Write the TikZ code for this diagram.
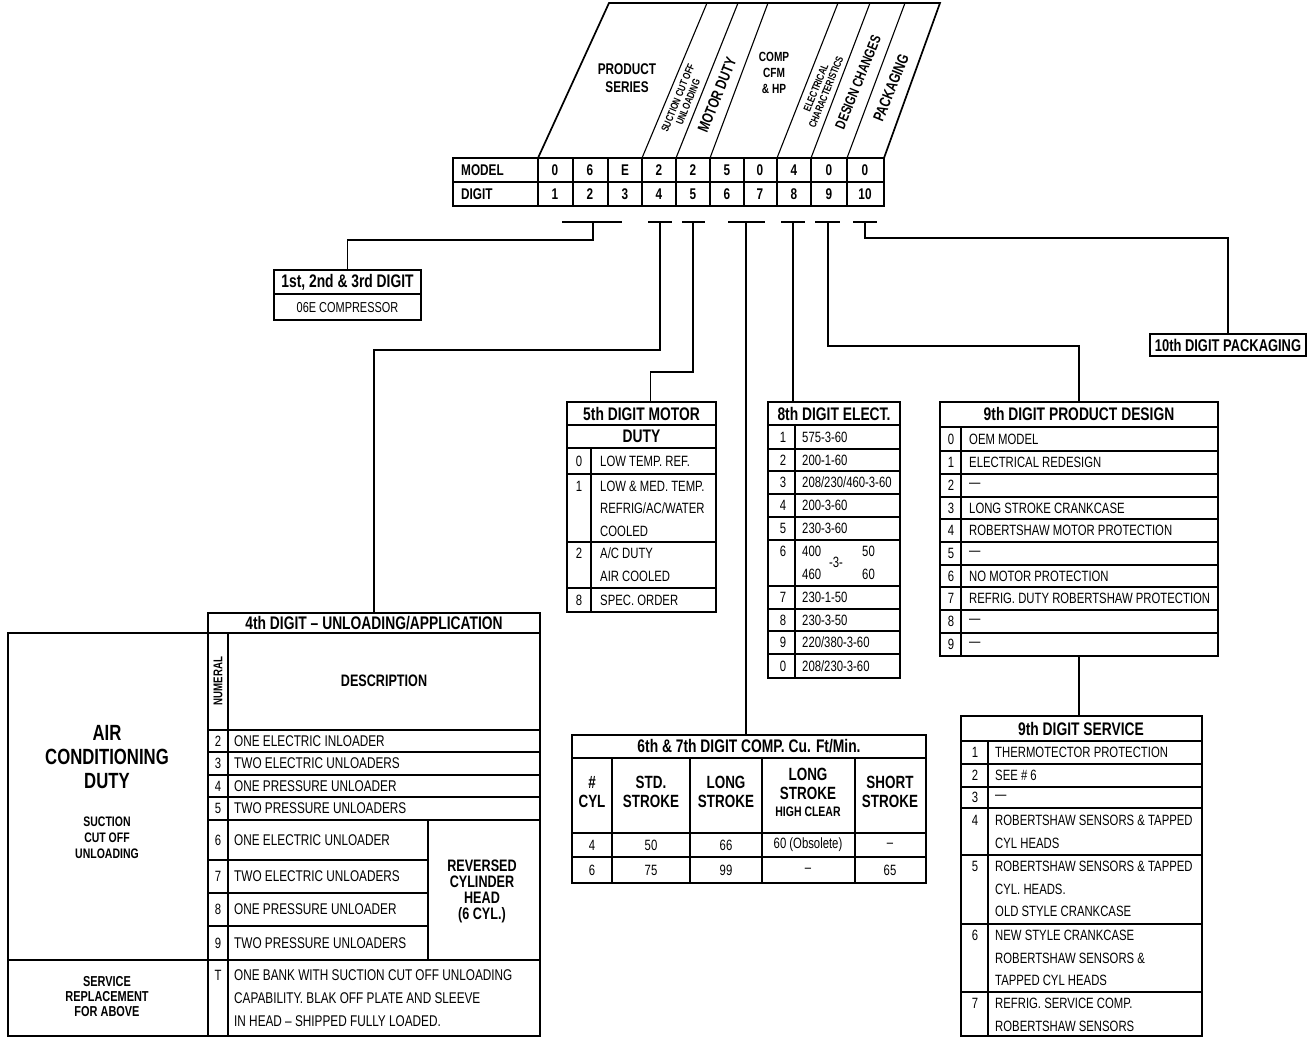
\documentclass[tikz,border=0pt]{standalone}
\usepackage{fontspec}
\setmainfont{Liberation Sans}[FakeStretch=0.76]
\usetikzlibrary{positioning}
\newcommand\fsz[2]{\fontsize{#1}{#2}\selectfont}

\begin{document}
\begin{tikzpicture}[
  x=1pt, y=-1pt,
  frame/.style={line width=1.7pt},
  grid/.style={line width=1.1pt},
  conn/.style={line width=1.7pt},
  tbl/.style={draw, frame, inner sep=0, outer sep=0, anchor=north west},
  txt/.style={inner sep=0, anchor=west, font=\fsz{14.9}{16}},
  num/.style={inner sep=0, font=\fsz{14.9}{16}},
  bld/.style={inner sep=0, align=center, font=\bfseries\fsz{15.5}{17}},
  ttl/.style={inner sep=0, font=\bfseries\fsz{18.2}{19}},
]
  \useasboundingbox (0,0) rectangle (1314,1038);

  % slanted heading over the model number
  \draw[frame] (538,158) -- (609,3) -- (940,3) -- (884,158);
  \foreach \b/\t in {642/707,676/738,710/768,777/838,811/870,847/905}
    \draw[grid] (\b,158) -- (\t,3);
  \node[bld, font=\bfseries\fsz{15.5}{18}] (hps) at (627,78) {PRODUCT\\SERIES};
  \node[bld, rotate=68, font=\bfseries\fsz{10.5}{11}] (hsu) at (683,100) {SUCTION CUT OFF\\UNLOADING};
  \node[bld, rotate=68, font=\bfseries\fsz{15.5}{16}] (hmd) at (717,95) {MOTOR DUTY};
  \node[bld, font=\bfseries\fsz{13.3}{16}] (hcc) at (774,73) {COMP\\CFM\\\& HP};
  \node[bld, rotate=68, font=\bfseries\fsz{10.5}{11}] (hel) at (821,90) {ELECTRICAL\\CHARACTERISTICS};
  \node[bld, rotate=68, font=\bfseries\fsz{14.4}{15}] (hdc) at (858,82) {DESIGN CHANGES};
  \node[bld, rotate=68, font=\bfseries\fsz{15.5}{16}] (hpk) at (891,88) {PACKAGING};

  % model / digit table
  \draw[frame] (453,158) rectangle (884,206);
  \draw[grid] (453,182) -- (884,182);
  \foreach \x in {538,573,608,642,676,710,744,777,811,847}
    \draw[grid] (\x,158) -- (\x,206);
  \node[bld, anchor=west] (model) at (461,170) {MODEL};
  \node[bld, anchor=west] (digit) at (461,194) {DIGIT};
  \foreach \i/\c/\m in {1/555/0,2/590/6,3/625/E,4/659/2,5/693/2,6/727/5,7/760/0,8/794/4,9/829/0,10/865/0} {
    \node[bld] (m\i) at (\c,170) {\m};
    \node[bld] (d\i) at (\c,194) {\i};
  }

  % brackets under the digits
  \foreach \n/\a/\s/\b in {1/562/593/622,2/648/660/672,3/682/693/705,4/728/746/765,5/781/793/805,6/815/828/840,7/853/865/877} {
    \draw[conn] (\a,222) -- (\b,222);
    \coordinate (k\n) at (\s,222);
  }

  % 1st, 2nd & 3rd digit
  \node[tbl, minimum width=147, minimum height=50] (f1) at (274,270) {};
  \draw[grid] (274,294) -- (421,294);
  \node[ttl] (t1) at (347.5,282) {1st, 2nd \& 3rd DIGIT};
  \node[num, font=\fsz{14.4}{15}] (c1) at (347.5,308) {06E COMPRESSOR};

  % 10th digit
  \node[tbl, minimum width=156, minimum height=22, font=\bfseries\fsz{17}{18}] (f10) at (1150,334) {10th DIGIT PACKAGING};

  % 5th digit
  \node[tbl, minimum width=149, minimum height=210] (f5) at (567,402) {};
  \node[ttl] (t5) at (641.5,413.5) {5th DIGIT MOTOR};
  \draw[grid] (567,425) -- (716,425);
  \node[ttl] (t5b) at (641.5,436.5) {DUTY};
  \draw[grid] (567,448) -- (716,448);
  \draw[grid] (591,448) -- (591,612);
  \foreach \y in {474,542,588} \draw[grid] (567,\y) -- (716,\y);
  \foreach \n/\y in {0/461,1/486,2/553,8/600} \node[num] at (579,\y) {\n};
  \foreach \y/\s in {461/{LOW TEMP. REF.},486/{LOW \& MED. TEMP.},508/{REFRIG/AC/WATER},531/{COOLED},553/{A/C DUTY},576/{AIR COOLED},600/{SPEC. ORDER}}
    \node[txt] at (600,\y) {\s};

  % 8th digit
  \node[tbl, minimum width=132, minimum height=276] (f8) at (768,402) {};
  \node[ttl] (t8) at (834,413.5) {8th DIGIT ELECT.};
  \draw[grid] (768,425) -- (900,425);
  \draw[grid] (795,425) -- (795,678);
  \foreach \y in {449,471,494,517,540,586,609,631,654} \draw[grid] (768,\y) -- (900,\y);
  \foreach \n/\y/\s in {1/437/{575-3-60},2/460/{200-1-60},3/482.5/{208/230/460-3-60},4/505.5/{200-3-60},5/528.5/{230-3-60},7/597.5/{230-1-50},8/620/{230-3-50},9/642.5/{220/380-3-60},0/666/{208/230-3-60}} {
    \node[num] at (783,\y) {\n};
    \node[txt] at (802,\y) {\s};
  }
  \node[num] at (783,551) {6};
  \node[txt] at (802,551) {400};
  \node[txt] at (802,574) {460};
  \node[num] at (836,562) {-3-};
  \node[txt] at (862,551) {50};
  \node[txt] at (862,574) {60};

  % 9th digit product design
  \node[tbl, minimum width=278, minimum height=254] (f9) at (940,402) {};
  \node[ttl] (t9) at (1079,414) {9th DIGIT PRODUCT DESIGN};
  \draw[grid] (940,427) -- (1218,427);
  \draw[grid] (961,427) -- (961,656);
  \foreach \y in {451,474,497,519,542,565,587,610,633} \draw[grid] (940,\y) -- (1218,\y);
  \foreach \n/\y/\s in {0/439/{OEM MODEL},1/462.5/{ELECTRICAL REDESIGN},2/485.5/{—},3/508/{LONG STROKE CRANKCASE},4/530.5/{ROBERTSHAW MOTOR PROTECTION},5/553.5/{—},6/576/{NO MOTOR PROTECTION},7/598.5/{REFRIG. DUTY ROBERTSHAW PROTECTION},8/621.5/{—},9/644.5/{—}} {
    \node[num] at (951,\y) {\n};
    \node[txt] at (969,\y) {\s};
  }

  % 9th digit service
  \node[tbl, minimum width=241, minimum height=320] (f9s) at (961,716) {};
  \node[ttl] (t9s) at (1081,728.5) {9th DIGIT SERVICE};
  \draw[grid] (961,741) -- (1202,741);
  \draw[grid] (988,741) -- (988,1036);
  \foreach \y in {764,787,808,855,924,992} \draw[grid] (961,\y) -- (1202,\y);
  \foreach \n/\y in {1/752.5,2/775.5,3/797.5,4/820,5/866,6/935,7/1003} \node[num] at (975,\y) {\n};
  \foreach \y/\s in {752.5/{THERMOTECTOR PROTECTION},775.5/{SEE \# 6},797.5/{—},820/{ROBERTSHAW SENSORS \& TAPPED},843/{CYL HEADS},866/{ROBERTSHAW SENSORS \& TAPPED},889/{CYL. HEADS.},911/{OLD STYLE CRANKCASE},935/{NEW STYLE CRANKCASE},958/{ROBERTSHAW SENSORS \&},980/{TAPPED CYL HEADS},1003/{REFRIG. SERVICE COMP.},1026/{ROBERTSHAW SENSORS}}
    \node[txt] at (995,\y) {\s};

  % 6th & 7th digit
  \node[tbl, minimum width=354, minimum height=148] (f67) at (572,735) {};
  \node[ttl] (t67) at (749,746.5) {6th \& 7th DIGIT COMP. Cu. Ft/Min.};
  \draw[grid] (572,758) -- (926,758);
  \foreach \x in {612,690,762,855} \draw[grid] (\x,758) -- (\x,883);
  \foreach \y in {833,857} \draw[grid] (572,\y) -- (926,\y);
  \foreach \x/\s in {592/{\#\\CYL},651/{STD.\\STROKE},726/{LONG\\STROKE},890/{SHORT\\STROKE}}
    \node[bld, font=\bfseries\fsz{17.7}{19}] at (\x,792) {\s};
  \node[bld, font=\bfseries\fsz{17.7}{19}] at (808,784) {LONG\\STROKE};
  \node[bld, font=\bfseries\fsz{13.8}{14}] at (808,812) {HIGH CLEAR};
  \foreach \x/\a/\b in {592/4/6,651/50/75,726/66/99,808/{60 (Obsolete)}/–,890/–/65} {
    \node[num] at (\x,845) {\a};
    \node[num] at (\x,870) {\b};
  }

  % 4th digit
  \node[tbl, minimum width=332, minimum height=20] (f4) at (208,613) {};
  \node[ttl] (t4) at (374,623) {4th DIGIT – UNLOADING/APPLICATION};
  \node[tbl, minimum width=532, minimum height=403] (g4) at (8,633) {};
  \draw[frame] (208,633) -- (208,1036);
  \draw[grid] (228,633) -- (228,1036);
  \foreach \y in {730,752,775,797,820} \draw[grid] (208,\y) -- (540,\y);
  \foreach \y in {860,893,926} \draw[grid] (208,\y) -- (428,\y);
  \draw[grid] (428,820) -- (428,960);
  \draw[frame] (8,960) -- (540,960);
  \node[bld, rotate=90, font=\bfseries\fsz{12.7}{13}] at (218,681) {NUMERAL};
  \node[bld, font=\bfseries\fsz{16.6}{17}] at (384,681) {DESCRIPTION};
  \foreach \n/\y/\s in {2/741/{ONE ELECTRIC INLOADER},3/763.5/{TWO ELECTRIC UNLOADERS},4/786/{ONE PRESSURE UNLOADER},5/808.5/{TWO PRESSURE UNLOADERS},6/840/{ONE ELECTRIC UNLOADER},7/876.5/{TWO ELECTRIC UNLOADERS},8/909.5/{ONE PRESSURE UNLOADER},9/943/{TWO PRESSURE UNLOADERS}} {
    \node[num] at (218,\y) {\n};
    \node[txt, font=\fsz{15.5}{16}] at (234,\y) {\s};
  }
  \node[num] at (218,975) {T};
  \foreach \y/\s in {975/{ONE BANK WITH SUCTION CUT OFF UNLOADING},998/{CAPABILITY. BLAK OFF PLATE AND SLEEVE},1021/{IN HEAD – SHIPPED FULLY LOADED.}}
    \node[txt, font=\fsz{15.5}{16}] at (234,\y) {\s};
  \node[bld, font=\bfseries\fsz{22}{24}] (acd) at (107,757) {AIR\\CONDITIONING\\DUTY};
  \node[bld, font=\bfseries\fsz{13.8}{16}] (scu) at (107,838) {SUCTION\\CUT OFF\\UNLOADING};
  \node[bld, font=\bfseries\fsz{14.4}{15}] (srv) at (107,997) {SERVICE\\REPLACEMENT\\FOR ABOVE};
  \node[bld, font=\bfseries\fsz{16.6}{16}] (rch) at (482,891) {REVERSED\\CYLINDER\\HEAD\\(6 CYL.)};

  % connectors
  \draw[conn] (k1) -- (593,240) -| (f1.north);
  \draw[conn] (k2) -- (660,350) -| (f4.north);
  \draw[conn] (k3) -- (693,372) -| ([xshift=9pt]f5.north);
  \draw[conn] (k4) -- (k4 |- f67.north);
  \draw[conn] (k5) -- (k5 |- f8.north);
  \draw[conn] (k6) -- (828,346) -| (f9.north);
  \draw[conn] (k7) -- (865,238) -| (f10.north);
  \draw[conn] (f9.south) -- (f9.south |- f9s.north);
\end{tikzpicture}
\end{document}
